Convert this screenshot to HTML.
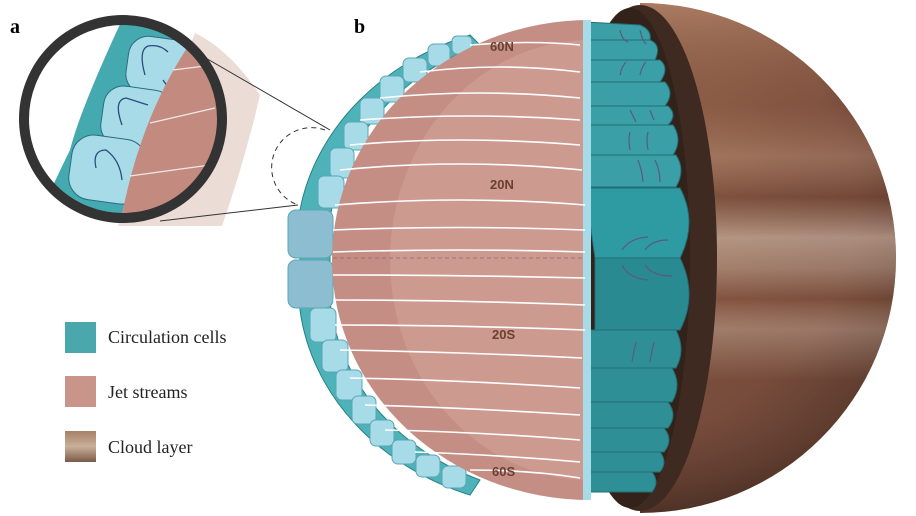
<!DOCTYPE html>
<html><head><style>
body{margin:0;background:#fff;width:916px;height:516px;overflow:hidden}
svg{display:block}
text{font-family:"Liberation Serif",serif}
text.s{font-family:"Liberation Sans",sans-serif}
</style></head><body>
<svg width="916" height="516" viewBox="0 0 916 516">
<defs>
<radialGradient id="jup" cx="0.5" cy="0.4" r="0.6">
<stop offset="0" stop-color="#9c6c50"/><stop offset="0.7" stop-color="#7d5040"/><stop offset="1" stop-color="#4e3226"/>
</radialGradient>
<linearGradient id="bands" x1="0" y1="0" x2="0" y2="1">
<stop offset="0" stop-color="#c89878" stop-opacity="0.6"/>
<stop offset="0.2" stop-color="#8a5a40" stop-opacity="0.2"/>
<stop offset="0.3" stop-color="#b89078" stop-opacity="0.4"/>
<stop offset="0.38" stop-color="#6a4030" stop-opacity="0.5"/>
<stop offset="0.46" stop-color="#cdb8a8" stop-opacity="0.6"/>
<stop offset="0.52" stop-color="#b8a090" stop-opacity="0.5"/>
<stop offset="0.58" stop-color="#7a4c38" stop-opacity="0.5"/>
<stop offset="0.64" stop-color="#c8b0a0" stop-opacity="0.4"/>
<stop offset="0.74" stop-color="#6a4434" stop-opacity="0.4"/>
<stop offset="1" stop-color="#805040" stop-opacity="0"/>
</linearGradient>
<linearGradient id="cloud" x1="0" y1="0" x2="0" y2="1">
<stop offset="0" stop-color="#a88068"/><stop offset="0.5" stop-color="#c9b09a"/><stop offset="1" stop-color="#7a5a48"/>
</linearGradient>
<clipPath id="circ"><circle cx="123" cy="119" r="97"/></clipPath>
<clipPath id="right"><rect x="640" y="0" width="280" height="516"/></clipPath>
</defs>

<!-- Jupiter -->
<g clip-path="url(#right)">
<ellipse cx="640" cy="258" rx="256" ry="255" fill="url(#jup)"/>
<ellipse cx="640" cy="258" rx="256" ry="255" fill="url(#bands)"/>
</g>
<ellipse cx="640" cy="258" rx="77" ry="253" fill="#3e2a20"/>
<ellipse cx="630" cy="258" rx="60" ry="250" fill="#33221a"/>

<!-- right teal cells -->
<g fill="#3a9fa6" stroke="#236e76" stroke-width="1">
<path d="M585 22 L640 25 Q652 30 650 40 L585 40Z"/>
<path d="M585 40 L650 40 Q662 45 655 60 L585 60Z"/>
<path d="M585 60 L660 60 Q670 68 660 82 L585 82Z"/>
<path d="M585 82 L665 82 Q675 93 665 106 L585 106Z"/>
<path d="M585 106 L668 106 Q678 115 668 125 L585 125Z"/>
<path d="M585 125 L673 125 Q683 140 673 155 L585 155Z"/>
<path d="M585 155 L676 155 Q686 170 676 187 L585 187Z"/>
<path d="M585 188 L680 188 Q698 222 680 258 L595 258Z" fill="#2e9aa2"/>
<path d="M595 258 L680 258 Q698 295 680 330 L595 330Z" fill="#2a8a92"/>
<path d="M590 330 L676 330 Q686 350 676 368 L590 368Z" fill="#2f8f96"/>
<path d="M590 368 L672 368 Q682 385 672 402 L590 402Z" fill="#2f8f96"/>
<path d="M588 402 L668 402 Q678 415 668 428 L588 428Z" fill="#2f8f96"/>
<path d="M588 428 L664 428 Q674 440 664 452 L588 452Z" fill="#2f8f96"/>
<path d="M588 452 L660 452 Q668 462 660 472 L588 472Z" fill="#2f8f96"/>
<path d="M586 472 L652 472 Q660 482 652 492 L586 492Z" fill="#2f8f96"/>
</g>
<g stroke="#5a5a80" stroke-width="1.2" fill="none">
<path d="M620 30 Q622 40 628 42"/><path d="M640 30 Q642 40 646 44"/>
<path d="M620 75 Q622 66 626 62"/><path d="M640 75 Q642 66 646 62"/>
<path d="M630 110 Q634 118 636 122"/><path d="M650 110 Q652 116 654 120"/>
<path d="M630 150 Q628 140 630 132"/><path d="M648 150 Q646 140 648 132"/>
<path d="M638 160 Q642 170 643 182"/><path d="M655 160 Q660 170 660 182"/>
<path d="M622 250 Q630 238 648 237"/><path d="M645 250 Q652 240 668 240"/>
<path d="M622 265 Q628 278 648 280"/><path d="M645 265 Q652 276 672 276"/>
<path d="M632 362 Q634 350 636 342"/><path d="M650 362 Q652 350 654 342"/>
</g>

<!-- left teal cells along limb -->
<g fill="#4db3b8" stroke="#2a8088" stroke-width="1">
<path d="M470 35 A262 225 0 0 0 300 210 L300 310 A262 225 0 0 0 470 495 L480 480 A250 215 0 0 1 330 300 L330 220 A250 215 0 0 1 480 45Z"/>
</g>
<g fill="#a8dbe8" stroke="#5aa6b4" stroke-width="1">
<rect x="452" y="36" width="20" height="18" rx="5"/>
<rect x="428" y="44" width="22" height="22" rx="6"/>
<rect x="403" y="58" width="24" height="24" rx="6"/>
<rect x="380" y="76" width="24" height="26" rx="6"/>
<rect x="360" y="98" width="24" height="26" rx="6"/>
<rect x="344" y="122" width="24" height="28" rx="6"/>
<rect x="330" y="148" width="24" height="30" rx="6"/>
<rect x="318" y="176" width="26" height="32" rx="6"/>
<rect x="288" y="210" width="45" height="48" rx="8" fill="#8cbdd0"/>
<rect x="288" y="260" width="45" height="48" rx="8" fill="#8cbdd0"/>
<rect x="310" y="308" width="26" height="34" rx="6"/>
<rect x="322" y="340" width="26" height="32" rx="6"/>
<rect x="336" y="370" width="26" height="30" rx="6"/>
<rect x="352" y="396" width="24" height="28" rx="6"/>
<rect x="370" y="420" width="24" height="26" rx="6"/>
<rect x="392" y="440" width="24" height="24" rx="6"/>
<rect x="416" y="455" width="24" height="22" rx="6"/>
<rect x="442" y="466" width="24" height="22" rx="6"/>
</g>

<!-- pink hemisphere -->
<path d="M590 20 A258 240 0 0 0 590 500 Z" fill="#c58e84"/>
<path d="M590 40 A200 220 0 0 0 590 480 Z" fill="#cd9a90"/>
<rect x="583" y="20" width="8" height="480" fill="#a8dbe8"/>
<g stroke="#fff" stroke-width="1.6" fill="none">
<path d="M470 45 Q530 40 580 45"/><path d="M420 72 Q500 62 580 72"/>
<path d="M380 98 Q480 88 580 98"/><path d="M360 120 Q470 112 580 120"/>
<path d="M350 145 Q460 135 580 145"/><path d="M340 170 Q460 158 582 170"/>
<path d="M335 205 Q460 195 585 205"/><path d="M333 230 Q460 225 585 230"/>
<path d="M333 252 Q460 248 585 252"/><path d="M333 275 Q460 275 585 278"/>
<path d="M333 300 Q460 300 585 305"/><path d="M335 325 Q460 325 585 330"/>
<path d="M340 350 Q460 352 582 358"/><path d="M350 378 Q460 380 580 388"/>
<path d="M365 405 Q470 408 580 415"/><path d="M385 430 Q480 432 580 440"/>
<path d="M415 452 Q500 455 580 462"/><path d="M470 470 Q530 470 580 478"/>
</g>
<line x1="333" y1="258" x2="585" y2="258" stroke="#a07068" stroke-dasharray="4 3"/>
<g font-size="13" font-weight="bold" fill="#6a4030">
<text class="s" x="490" y="51">60N</text><text class="s" x="490" y="189">20N</text>
<text class="s" x="492" y="339">20S</text><text class="s" x="492" y="476">60S</text>
</g>

<!-- inset -->
<path d="M195 33 Q230 50 260 95 Q245 160 222 226 L118 226 Z" fill="#ecdcd6"/>
<circle cx="123" cy="119" r="97" fill="#fff"/>
<g clip-path="url(#circ)">
<path d="M122 20 L200 20 L187 48 Q140 120 122 215 L40 215 Q55 180 70 150 Q80 110 122 20Z" fill="#45aab0"/>
<g fill="#a8dbe8" stroke="#2a6d80" stroke-width="1">
<rect x="127" y="38" width="70" height="58" rx="20" transform="rotate(8 160 67)"/>
<rect x="102" y="88" width="70" height="60" rx="20" transform="rotate(8 137 118)"/>
<rect x="70" y="137" width="75" height="65" rx="22" transform="rotate(8 107 170)"/>
</g>
<g stroke="#2a4a80" stroke-width="1.3" fill="none">
<path d="M145 75 Q138 50 148 46 Q160 44 168 52"/><path d="M163 80 L168 87"/>
<path d="M122 125 Q113 100 126 98 L148 105"/>
<path d="M96 168 Q92 150 106 150 Q120 160 122 180"/>
</g>
<path d="M187 48 Q140 120 122 215 L240 215 L240 30Z" fill="#c38b80"/>
<g stroke="#f0e8e6" stroke-width="1.2"><line x1="173" y1="70" x2="205" y2="66"/><line x1="150" y1="123" x2="215" y2="108"/><line x1="130" y1="176" x2="210" y2="165"/></g>
</g>
<circle cx="123" cy="119" r="99" fill="none" stroke="#333" stroke-width="10"/>
<line x1="185" y1="46" x2="330" y2="130" stroke="#333" stroke-width="1"/>
<line x1="160" y1="221" x2="298" y2="205" stroke="#333" stroke-width="1"/>
<path d="M325 130 A38 38 0 0 0 298 205" fill="none" stroke="#333" stroke-dasharray="5 4"/>

<text x="10" y="33" font-size="20" font-weight="bold">a</text>
<text x="354" y="33" font-size="20" font-weight="bold">b</text>

<rect x="65" y="322" width="31" height="31" fill="#4aa8ad"/>
<rect x="65" y="376" width="31" height="31" fill="#c9948a"/>
<rect x="65" y="431" width="31" height="31" fill="url(#cloud)"/>
<g font-size="18" fill="#222">
<text x="108" y="343">Circulation cells</text>
<text x="108" y="398">Jet streams</text>
<text x="108" y="453">Cloud layer</text>
</g>
</svg>
</body></html>
